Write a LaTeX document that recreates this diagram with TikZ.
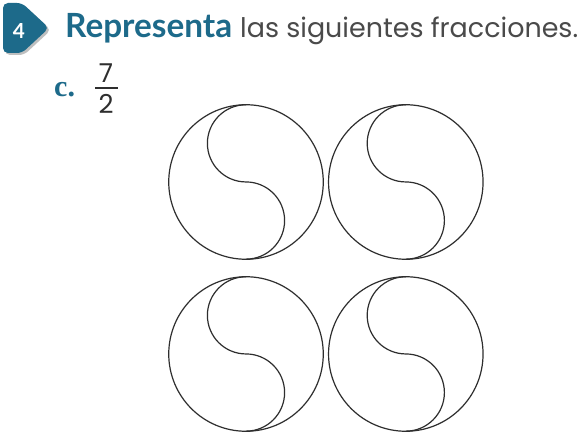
\documentclass[tikz,border=0pt]{standalone}
\usepackage{fontspec}
\usepackage{graphicx}
\setmainfont{Poppins}
\newfontfamily\heavy{Lato}
\newfontfamily\serifb{Liberation Serif}
\definecolor{teal1}{HTML}{1D6A8A}
\definecolor{txtgray}{HTML}{4A4A4A}
\definecolor{ink}{HTML}{2E2E2E}
\tikzset{
  disk/.style={circle, draw=ink, line width=1.2pt, minimum size=154.5pt, inner sep=0pt},
  scurve/.style={draw=ink, line width=1.2pt},
  digit/.style={text=ink, anchor=base, inner sep=0pt, font=\fontsize{26}{26}\selectfont},
}
\newcommand\yinyang[3]{%
  \begin{scope}[shift={(#2,-#3)}]
    \node[disk] (#1) at (0,0) {};
    \draw[scurve] (0,77.25) arc[start angle=90,end angle=270,radius=38.6pt]
                            arc[start angle=90,end angle=-90,radius=38.6pt];
  \end{scope}}
\begin{document}
\begin{tikzpicture}[x=1pt,y=1pt]
  \fill[white] (0,0) rectangle (581,-436);
  \useasboundingbox (0,0) rectangle (581,-436);
  % badge
  \fill[black!25, rounded corners=5pt] (5,-5) -- (24,-5) -- (51,-30) -- (24,-55) -- (5,-55) -- cycle;
  \fill[teal1, rounded corners=5pt] (3,-3) -- (22,-3) -- (49,-28) -- (22,-53) -- (3,-53) -- cycle;
  \node[anchor=base, text=white, inner sep=0pt] (num) at (19,-38.5) {\resizebox{!}{15pt}{\heavy\bfseries 4}};
  % title
  \node[anchor=base west, inner sep=0pt, text=teal1] (title) at (65,-38) {\resizebox{167pt}{!}{\heavy\bfseries Representa}};
  \node[anchor=base west, inner sep=0pt, text=txtgray] (rest) at (240,-38) {\resizebox{338pt}{!}{las siguientes fracciones.}};
  % item c
  \node[anchor=base west, inner sep=0pt, text=teal1, font=\serifb\bfseries\fontsize{30}{30}\selectfont] (item) at (54,-96) {c.};
  \node[digit] (seven) at (106,-82) {7};
  \node[digit] (two) at (106,-113) {2};
  \coordinate (barL) at (95,-88);
  \coordinate (barR) at (118,-88);
  \draw[ink, line width=1.2pt] (barL) -- (barR);
  % circles
  \yinyang{c1}{246}{182}
  \yinyang{c2}{405.8}{182}
  \yinyang{c3}{246}{354}
  \yinyang{c4}{405.8}{354}
\end{tikzpicture}
\end{document}
